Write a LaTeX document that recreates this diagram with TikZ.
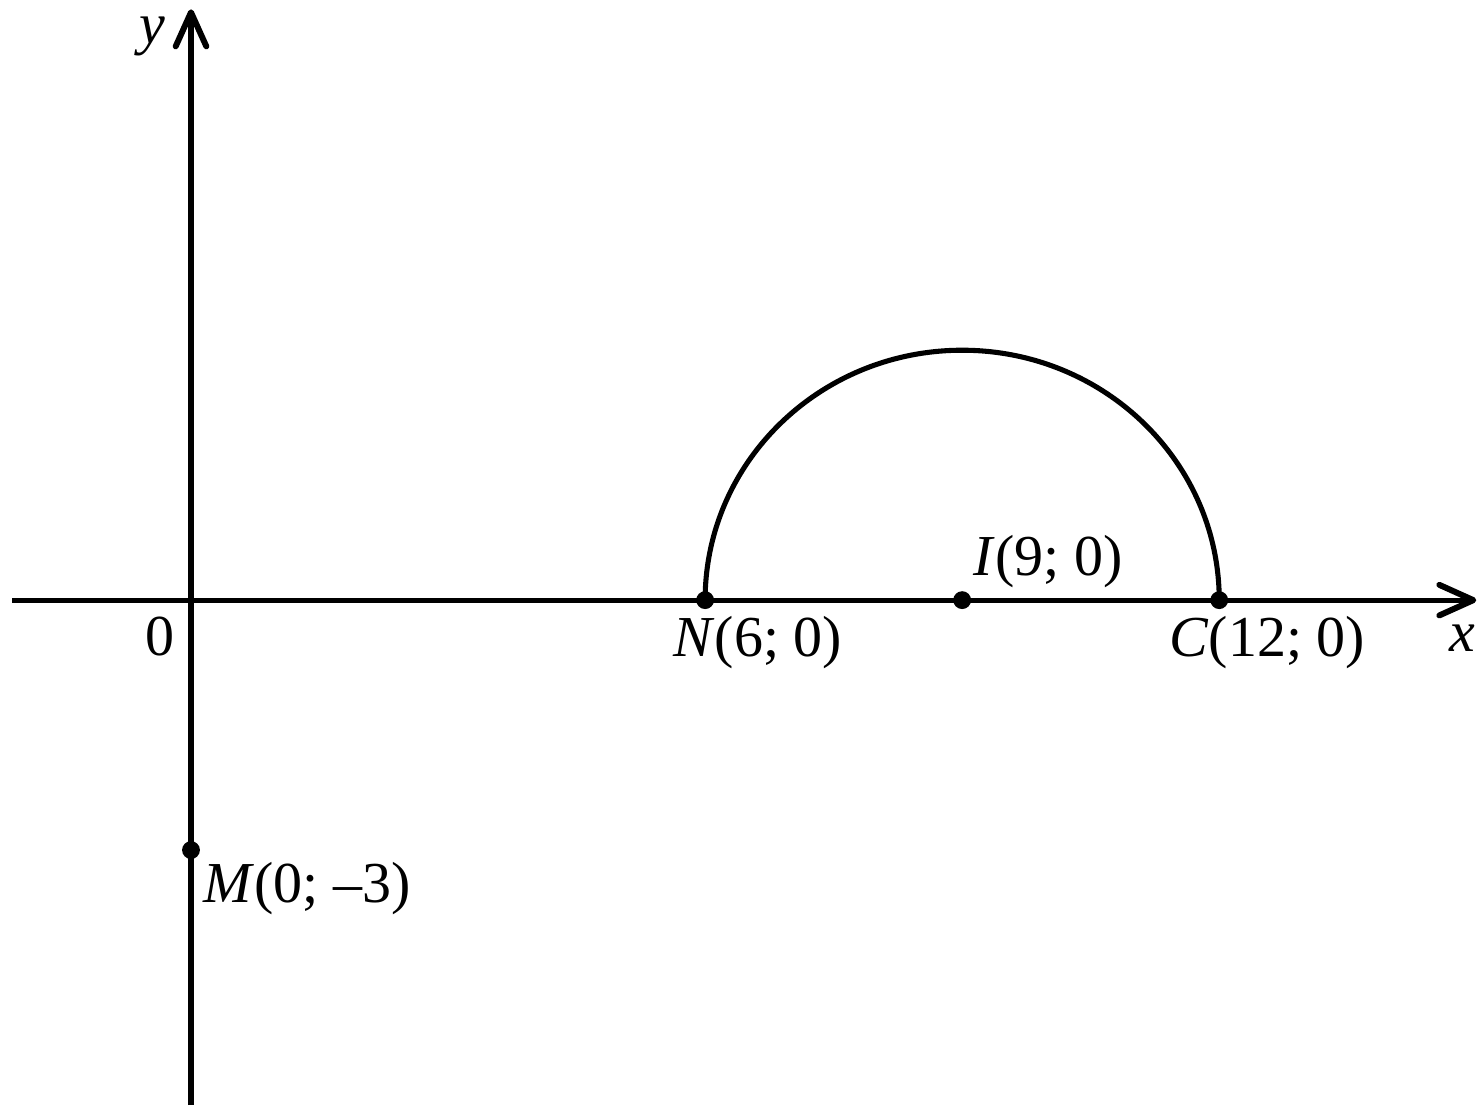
\documentclass[tikz,border=0pt]{standalone}
\usepackage{fontspec}
\setmainfont{Liberation Serif}
\usepackage{tikz}
\usetikzlibrary{arrows.meta,positioning}

\begin{document}
\begin{tikzpicture}[
    x=1.008cm, y=0.98cm,
    font=\fontsize{19.4}{22}\selectfont,
    axis/.style={line width=1.7pt, -{Straight Barb[length=4mm,width=3.6mm,line width=2pt,round]}},
    curve/.style={line width=1.7pt},
    dot/.style={circle, fill, inner sep=0pt, minimum size=2.1mm},
    lbl/.style={inner sep=0pt, anchor=base west}
]
    \useasboundingbox (-2.247cm,-5.965cm) rectangle (15.14cm,7.06cm);

    % points
    \coordinate (O) at (0,0);
    \coordinate (xstart) at (-2.1cm,0);
    \coordinate (xend) at (15.12cm,0);
    \coordinate (ystart) at (0,-5.94cm);
    \coordinate (yend) at (0,6.95cm);

    % axes
    \draw[axis] (xstart) -- (xend);
    \draw[axis] (ystart) -- (yend);
    \node[inner sep=0pt, anchor=base] (x_lbl) at (14.96cm,-0.61cm) {\textit{x}};
    \node[inner sep=0pt, anchor=base] (y_lbl) at (-0.46cm,6.55cm) {\textit{y}};
    \node[inner sep=0pt, anchor=base] (o_lbl) at (-0.37cm,-0.65cm) {0};

    % half circle
    \node[dot] (N) at (6,0) {};
    \node[dot] (I) at (9,0) {};
    \node[dot] (C) at (12,0) {};
    \node[dot] (M) at (0,-3) {};
    \draw[curve] (N.center) arc (180:0:3);

    \node[lbl] (N_lbl) at ([shift={(-0.38cm,-0.66cm)}]N.center) {\textit{N}(6; 0)};
    \node[lbl] (C_lbl) at ([shift={(-0.59cm,-0.66cm)}]C.center) {\textit{C}(12; 0)};
    \node[lbl] (I_lbl) at ([shift={(0.13cm,0.29cm)}]I.center) {\textit{I}(9; 0)};
    \node[lbl] (M_lbl) at ([shift={(0.14cm,-0.62cm)}]M.center) {\textit{M}(0; --3)};
\end{tikzpicture}
\end{document}
